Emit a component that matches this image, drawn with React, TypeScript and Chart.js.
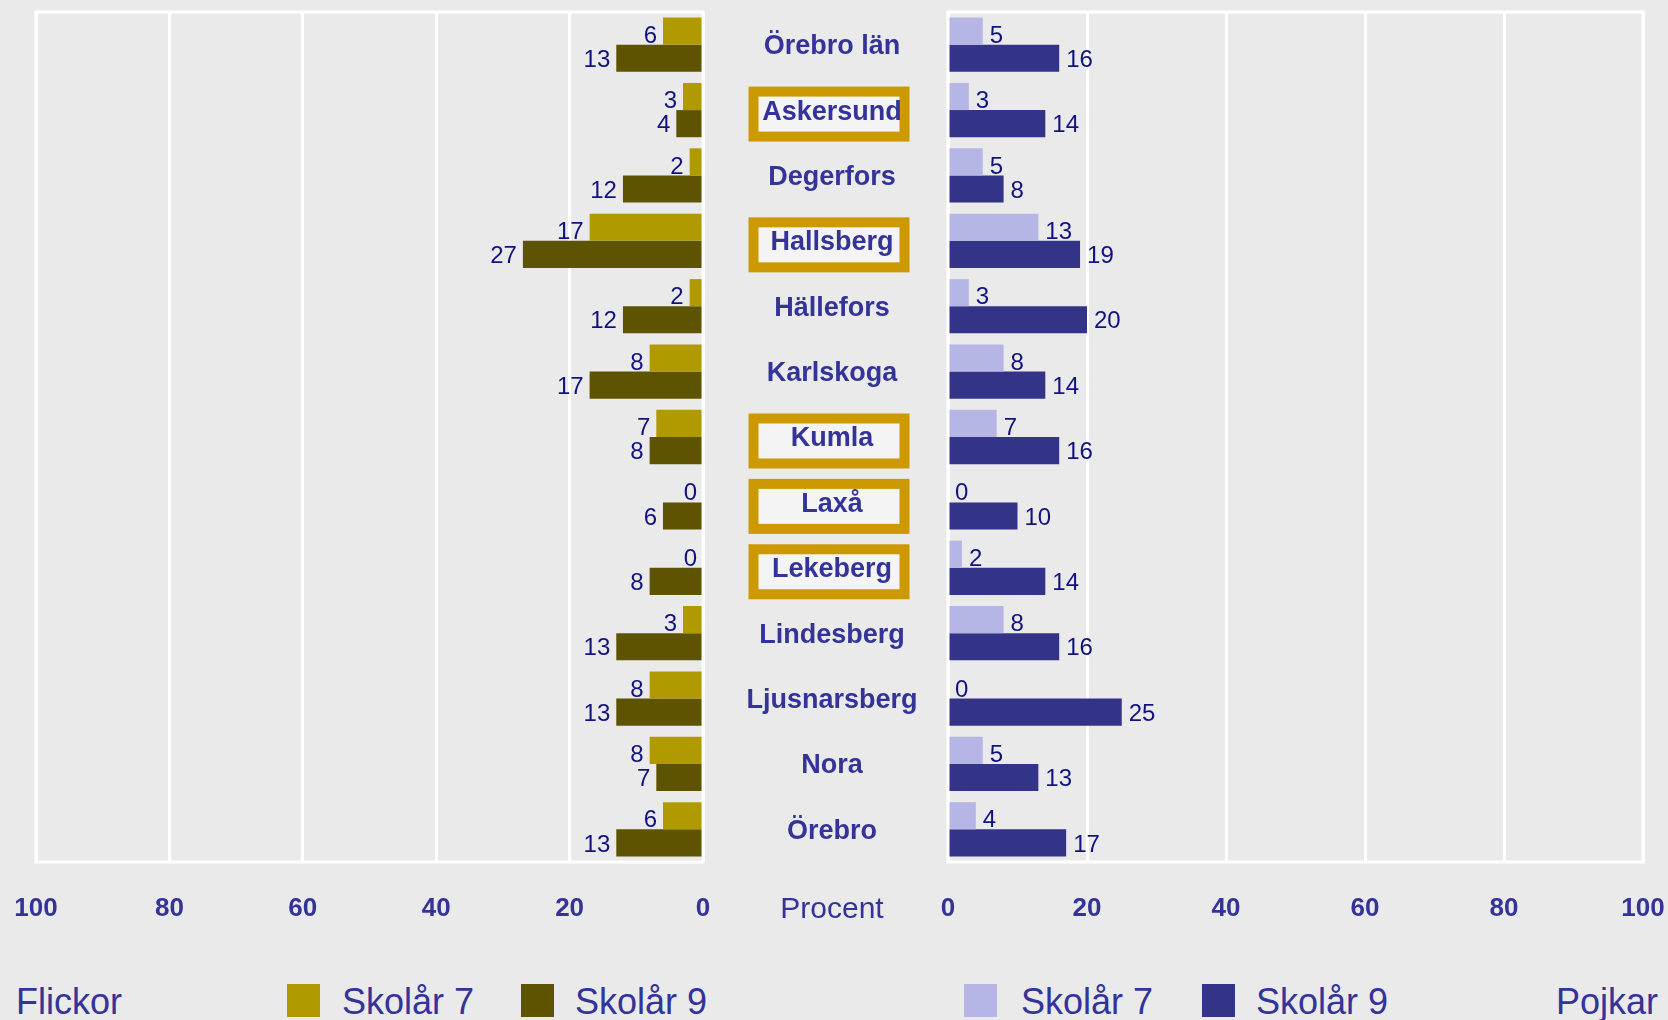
import React, { useEffect, useRef } from "react";
import { Chart, registerables } from "chart.js";

Chart.register(...registerables);

const categories = [
  "Örebro län", "Askersund", "Degerfors", "Hallsberg", "Hällefors", "Karlskoga",
  "Kumla", "Laxå", "Lekeberg", "Lindesberg", "Ljusnarsberg", "Nora", "Örebro",
];
const highlighted = ["Askersund", "Hallsberg", "Kumla", "Laxå", "Lekeberg"];

const girlsYear7 = [6, 3, 2, 17, 2, 8, 7, 0, 0, 3, 8, 8, 6];
const girlsYear9 = [13, 4, 12, 27, 12, 17, 8, 6, 8, 13, 13, 7, 13];
const boysYear7 = [5, 3, 5, 13, 3, 8, 7, 0, 2, 8, 0, 5, 4];
const boysYear9 = [16, 14, 8, 19, 20, 14, 16, 10, 14, 16, 25, 13, 17];

const FONT = "'Liberation Sans', Arial, Helvetica, sans-serif";
const TEXT = "#333399";
const LABEL = "#12127f";
const BG = "#EAEAEA";
const C_G7 = "#B09A00";
const C_G9 = "#5E5300";
const C_B7 = "#B6B6E6";
const C_B9 = "#333388";
const ORANGE = "#CC9900";

const frame = {
  id: "frame",
  beforeDatasetsDraw(chart: any) {
    const { ctx, chartArea: a } = chart;
    ctx.save();
    ctx.strokeStyle = "#FFFFFF";
    ctx.lineWidth = 3;
    ctx.strokeRect(a.left, a.top, a.right - a.left, a.bottom - a.top);
    ctx.restore();
  },
};

const valueLabels = (side: "left" | "right") => ({
  id: "valueLabels_" + side,
  afterDatasetsDraw(chart: any) {
    const { ctx } = chart;
    ctx.save();
    ctx.font = `24px ${FONT}`;
    ctx.fillStyle = LABEL;
    ctx.textBaseline = "middle";
    chart.data.datasets.forEach((ds: any, di: number) => {
      const meta = chart.getDatasetMeta(di);
      meta.data.forEach((bar: any, i: number) => {
        const v = ds.data[i];
        const dy = di === 0 ? 5 : 2;
        if (side === "left") {
          ctx.textAlign = "right";
          ctx.fillText(String(v), bar.x - 6, bar.y + dy);
        } else {
          ctx.textAlign = "left";
          ctx.fillText(String(v), bar.x + 7, bar.y + dy);
        }
      });
    });
    ctx.restore();
  },
});

const middleLabels = {
  id: "middleLabels",
  afterDraw(chart: any) {
    const { ctx, chartArea: a } = chart;
    const y = chart.scales.y;
    const cx = 832;
    ctx.save();
    categories.forEach((name, i) => {
      const py = y.getPixelForValue(i);
      if (highlighted.includes(name)) {
        const top = py + 4 - 27.5;
        ctx.fillStyle = "#F4F4F4";
        ctx.fillRect(753, top + 5, 152, 45);
        ctx.strokeStyle = ORANGE;
        ctx.lineWidth = 10;
        ctx.strokeRect(753.5, top + 5, 151, 45);
      }
      ctx.fillStyle = TEXT;
      ctx.font = `bold 27px ${FONT}`;
      ctx.textAlign = "center";
      ctx.textBaseline = "middle";
      ctx.fillText(name, cx, py + 2);
    });
    ctx.font = `30px ${FONT}`;
    ctx.textBaseline = "alphabetic";
    ctx.textAlign = "center";
    ctx.fillStyle = TEXT;
    ctx.fillText("Procent", cx, a.bottom + 56);
    ctx.restore();
  },
};

function makeOptions(reverse: boolean, padding: any) {
  return {
    indexAxis: "y" as const,
    responsive: false,
    animation: false as const,
    devicePixelRatio: 1,
    layout: { padding },
    plugins: { legend: { display: false }, tooltip: { enabled: false } },
    datasets: { bar: { categoryPercentage: 0.83, barPercentage: 1.0 } },
    scales: {
      x: {
        type: "linear" as const,
        min: 0,
        max: 100,
        reverse,
        border: { display: false },
        grid: {
          color: "#FFFFFF",
          lineWidth: 3,
          drawTicks: true,
          tickLength: 31,
          tickColor: "rgba(0,0,0,0)",
        },
        ticks: {
          stepSize: 20,
          padding: 0,
          maxRotation: 0,
          autoSkip: false,
          color: TEXT,
          font: { family: FONT, size: 26, weight: "bold" as const },
        },
        afterFit: (scale: any) => {
          scale.height = 70;
        },
      },
      y: {
        type: "category" as const,
        display: false,
        grid: { display: false },
      },
    },
  };
}

export default function App() {
  const leftRef = useRef<HTMLCanvasElement>(null);
  const rightRef = useRef<HTMLCanvasElement>(null);

  useEffect(() => {
    document.body.style.margin = "0";
    document.body.style.background = BG;
    const left = new Chart(leftRef.current as HTMLCanvasElement, {
      type: "bar",
      data: {
        labels: categories,
        datasets: [
          { label: "Skolår 7", data: girlsYear7, backgroundColor: C_G7, borderWidth: 0 },
          { label: "Skolår 9", data: girlsYear9, backgroundColor: C_G9, borderWidth: 0 },
        ],
      },
      options: makeOptions(true, { left: 36, right: 245, top: 12, bottom: 8 }) as any,
      plugins: [frame, valueLabels("left"), middleLabels],
    });
    const right = new Chart(rightRef.current as HTMLCanvasElement, {
      type: "bar",
      data: {
        labels: categories,
        datasets: [
          { label: "Skolår 7", data: boysYear7, backgroundColor: C_B7, borderWidth: 0 },
          { label: "Skolår 9", data: boysYear9, backgroundColor: C_B9, borderWidth: 0 },
        ],
      },
      options: makeOptions(false, { left: 48, right: 25, top: 12, bottom: 8 }) as any,
      plugins: [frame, valueLabels("right")],
    });
    return () => {
      left.destroy();
      right.destroy();
    };
  }, []);

  const legendText: React.CSSProperties = {
    position: "absolute",
    top: 984,
    fontSize: 36,
    lineHeight: "36px",
    color: TEXT,
    fontFamily: FONT,
    whiteSpace: "nowrap",
  };
  const sq = (left: number, color: string): React.CSSProperties => ({
    position: "absolute",
    left,
    top: 984,
    width: 33,
    height: 33,
    background: color,
  });

  return (
    <div
      style={{
        position: "absolute",
        left: 0,
        top: 0,
        width: 1668,
        height: 1020,
        background: BG,
        overflow: "hidden",
        fontFamily: FONT,
      }}
    >
      <canvas
        ref={leftRef}
        width={948}
        height={940}
        style={{ position: "absolute", left: 0, top: 0, width: 948, height: 940 }}
      />
      <canvas
        ref={rightRef}
        width={768}
        height={940}
        style={{ position: "absolute", left: 900, top: 0, width: 768, height: 940 }}
      />
      <div style={{ ...legendText, left: 16 }}>Flickor</div>
      <div style={sq(287, C_G7)} />
      <div style={{ ...legendText, left: 342 }}>Skolår 7</div>
      <div style={sq(521, C_G9)} />
      <div style={{ ...legendText, left: 575 }}>Skolår 9</div>
      <div style={sq(964, C_B7)} />
      <div style={{ ...legendText, left: 1021 }}>Skolår 7</div>
      <div style={sq(1202, C_B9)} />
      <div style={{ ...legendText, left: 1256 }}>Skolår 9</div>
      <div style={{ ...legendText, right: 10 }}>Pojkar</div>
    </div>
  );
}
